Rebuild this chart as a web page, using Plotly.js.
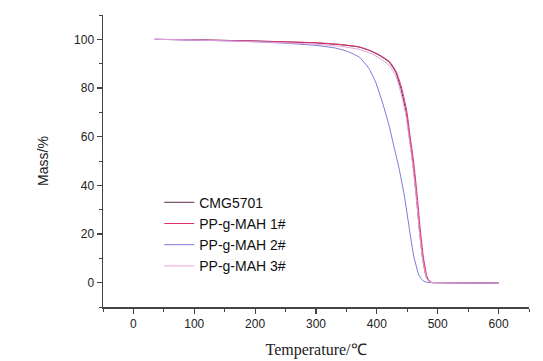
<!DOCTYPE html>
<html>
<head>
<meta charset="utf-8">
<script src="https://cdn.plot.ly/plotly-3.0.1.min.js"></script>
<style>html,body{margin:0;padding:0;background:#fff;}#chart{width:543px;height:361px;}</style>
</head>
<body>
<div id="chart"></div>
<script>
const names = ["CMG5701", "PP-g-MAH 1#", "PP-g-MAH 2#", "PP-g-MAH 3#"];

const tempCMG = [35, 100, 200, 300, 340, 371, 390, 404, 420, 431, 439.5, 448, 453, 459, 464.5, 469.5, 475, 480.5, 484, 489, 500, 550, 600];
const massCMG = [100, 99.8, 99.3, 98.5, 97.8, 96.8, 95.2, 93.4, 90.7, 86.5, 79.7, 70, 60.5, 49.5, 36.5, 22.8, 10.4, 2.9, 1, 0.1, 0, -0.1, -0.2];

const temp1 = [35, 100, 200, 300, 340, 371, 390, 405, 421, 432, 441, 449.5, 454.5, 460.5, 466, 471, 476.5, 482, 485.5, 490, 500, 550, 600];
const mass1 = [100, 99.8, 99.3, 98.6, 97.9, 96.9, 95.3, 93.5, 90.8, 86.6, 79.8, 70, 60.5, 49.5, 36.5, 22.8, 10.4, 2.9, 1, 0.1, 0, -0.1, -0.2];

const temp2 = [36, 100, 150, 200, 250, 300, 330, 350, 371, 387, 398, 409, 420, 428, 436, 445, 453, 461, 469.5, 476, 483, 500, 550, 600];
const mass2 = [100, 99.7, 99.4, 99.0, 98.4, 97.5, 96.5, 95.2, 92.7, 88, 82.4, 74.2, 64.6, 56, 47.5, 36, 22.8, 10.4, 2.9, 0.8, 0.1, 0, -0.1, -0.2];

const temp3 = [35, 100, 200, 300, 340, 371, 390, 404, 420, 431, 439.5, 448, 453, 459, 464.5, 469.5, 475, 480.5, 484, 489, 500, 550, 600];
const mass3 = [100, 99.7, 99.0, 98.0, 97.1, 95.9, 94.2, 92.3, 89.4, 85, 78, 68.5, 59.5, 48.5, 35.8, 22.2, 10, 2.7, 0.9, 0.1, 0, -0.1, -0.2];

const xTicks = [0, 100, 200, 300, 400, 500, 600];
const yTicks = [0, 20, 40, 60, 80, 100];

const colors = ["#5a2a48", "#e0306c", "#7a78d8", "#eaa0dc"];
const temps = [tempCMG, temp1, temp2, temp3];
const masses = [massCMG, mass1, mass2, mass3];

const traces = names.map((n, i) => ({
  x: temps[i], y: masses[i], name: n, type: "scatter", mode: "lines",
  line: {color: colors[i], width: 1, shape: "spline", smoothing: 0.5}
}));

const axisCommon = {
  showline: true, linecolor: "#444", linewidth: 1.5,
  ticks: "outside", ticklen: 5, tickwidth: 1.2, tickcolor: "#444",
  showgrid: false, zeroline: false,
  tickfont: {family: "Liberation Sans, Arial, sans-serif", size: 12, color: "#222"}
};

const layout = {
  width: 543, height: 361,
  margin: {l: 103, r: 14, t: 15, b: 54},
  paper_bgcolor: "#fff", plot_bgcolor: "#fff",
  showlegend: true,
  legend: {
    x: 0.132, y: 0.412, xanchor: "left", yanchor: "top",
    bgcolor: "rgba(0,0,0,0)",
    font: {family: "Liberation Sans, Arial, sans-serif", size: 14, color: "#111"},
    tracegroupgap: 0
  },
  xaxis: Object.assign({}, axisCommon, {
    range: [-50, 650], tickvals: xTicks, ticktext: xTicks.map(String),
    minor: {dtick: 50, tick0: -50, ticks: "outside", ticklen: 3, tickcolor: "#444", tickwidth: 1},
    title: {text: "Temperature/℃", standoff: 14, font: {family: "Liberation Serif, Times New Roman, serif", size: 16, color: "#222"}}
  }),
  yaxis: Object.assign({}, axisCommon, {
    range: [-10, 110], tickvals: yTicks, ticktext: yTicks.map(String),
    minor: {dtick: 10, tick0: -10, ticks: "outside", ticklen: 3, tickcolor: "#444", tickwidth: 1},
    title: {text: "Mass/%", standoff: 22, font: {family: "Liberation Sans, Arial, sans-serif", size: 14, color: "#222"}}
  })
};

Plotly.newPlot("chart", traces, layout, {displayModeBar: false, staticPlot: true});
</script>
</body>
</html>
